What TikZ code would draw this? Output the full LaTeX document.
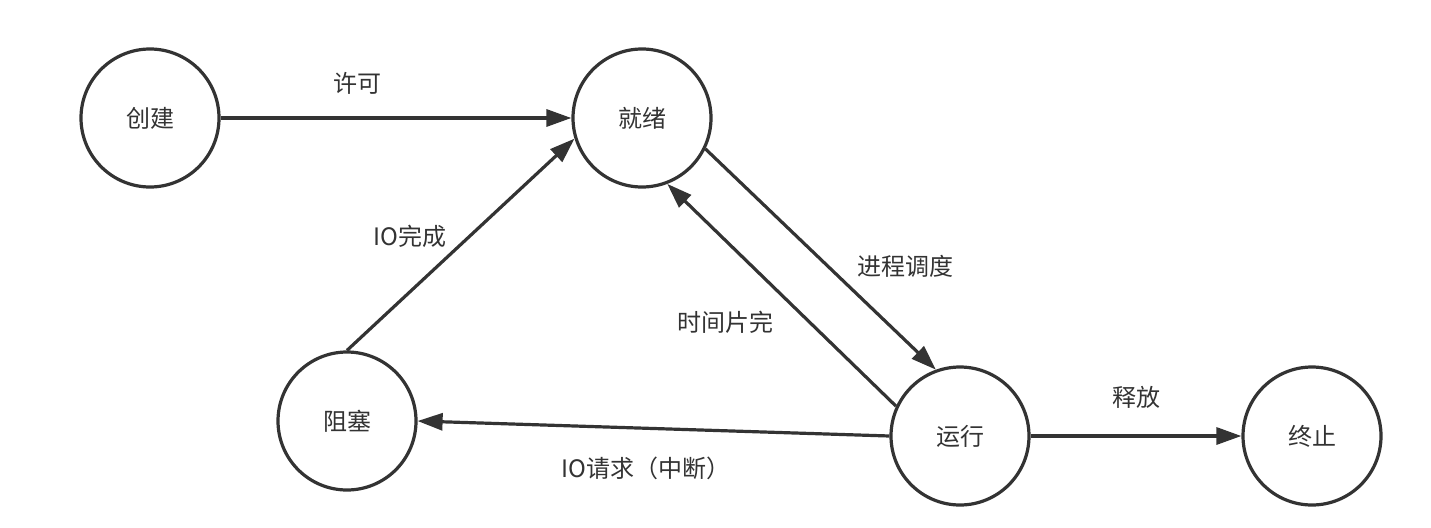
\documentclass[tikz,border=0pt]{standalone}
\usepackage{fontspec}
\setmainfont{Noto Sans CJK SC}
\usetikzlibrary{arrows.meta}
\definecolor{ink}{HTML}{333333}

\begin{document}
\begin{tikzpicture}[
  x=1pt,y=-1pt,
  >={Triangle[length=25pt,width=17pt]},
  state/.style={shape=circle,draw=ink,line width=3.2pt,minimum size=138pt,
    inner sep=0pt,text=ink,font=\fontsize{24}{28}\selectfont},
  lbl/.style={text=ink,font=\fontsize{24}{28}\selectfont,inner sep=0pt},
  flow/.style={->,draw=ink,line width=3.2pt}
]
  \useasboundingbox (0,0) rectangle (1431,527);

  \node[state] (create) at (150,118) {创建};
  \node[state] (ready) at (642,118) {就绪};
  \node[state] (blocked) at (347,421) {阻塞};
  \node[state] (running) at (960,436) {运行};
  \node[state] (done) at (1312,436) {终止};

  \draw[flow] (create.east) -- (ready.west);
  \draw[flow] (blocked.north) -- (ready.197);
  \draw[flow] (ready.-26) -- (running.110);
  \draw[flow] (running.155) -- (ready.291);
  \draw[flow] (running.west) -- (blocked.east);
  \draw[flow] (running.east) -- (done.west);

  % edge labels
  \node[lbl] (permit) at (357,83) {许可};
  \node[lbl] (iodone) at (410,236) {IO完成};
  \node[lbl] (dispatch) at (905,266) {进程调度};
  \node[lbl] (timeout) at (725,322) {时间片完};
  \node[lbl] (ioreq) at (646,468) {IO请求（中断）};
  \node[lbl] (release) at (1136,397) {释放};
\end{tikzpicture}
\end{document}
